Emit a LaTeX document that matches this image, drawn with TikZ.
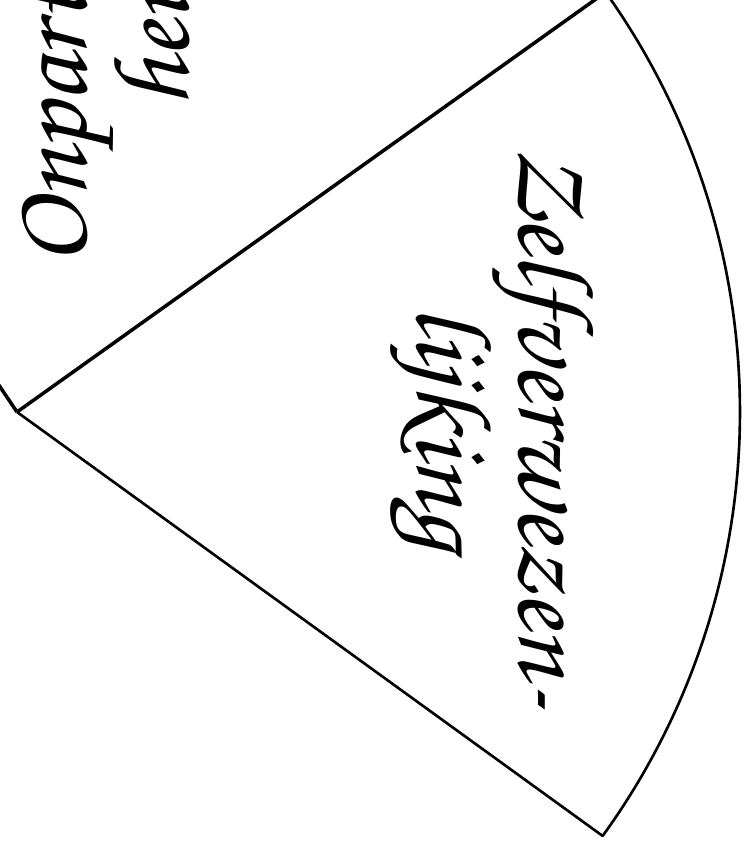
\documentclass[tikz,border=0pt]{standalone}
\usepackage{fontspec}
\newfontfamily\handfont{texgyrechorus-mediumitalic.otf}
\tikzset{
	rim/.style={draw, line width=1.5pt, line join=round},
	rimB/.style={rim, line width=2pt},
	sectortext/.style={
		font={\handfont\fontsize{62}{58}\selectfont}, align=center, inner sep=0pt
	},
}
\def\rad{14.46}

\begin{document}
\begin{tikzpicture}
\useasboundingbox (-0.34,-8.62) rectangle (14.62,8.24);
\coordinate (apex) at (0,0);
\coordinate (top) at (35.5:\rad);
\coordinate (bot) at (-35.9:\rad);
\coordinate (left) at (124:1.5);
% wedge
\draw[rimB] (apex) -- (top);
\draw[rim] (apex) -- (bot) arc (-35.9:35.5:\rad);
\draw[rimB] (apex) -- (left);
% labels
\node[sectortext, rotate=-90] (zelf) at (9.5,-0.32) {Zelfverwezen-\\lijking};
\node[sectortext, rotate=90] (onpar) at (1.68,7.68) {Onpartijdig-\\heid};
\end{tikzpicture}
\end{document}
